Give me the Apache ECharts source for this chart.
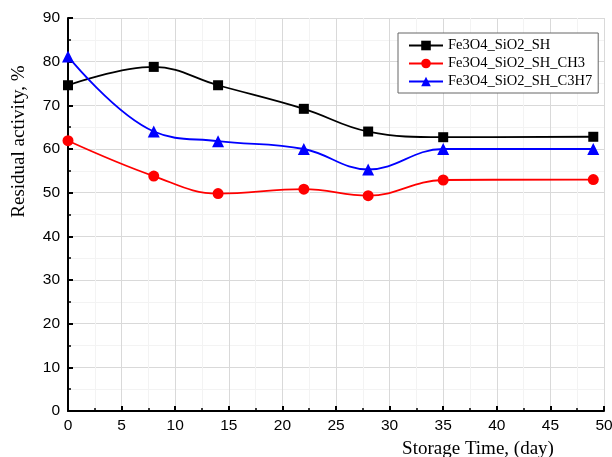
<!DOCTYPE html>
<html>
<head>
<meta charset="utf-8">
<script src="https://cdn.jsdelivr.net/npm/echarts@6/dist/echarts.min.js"></script>
<style>html,body{margin:0;padding:0;background:#fff}#c{width:612px;height:457px}</style>
</head>
<body>
<div id="c"></div>
<script>
const days = [0, 8, 14, 22, 28, 35, 49];
const seriesNames = ['Fe3O4_SiO2_SH', 'Fe3O4_SiO2_SH_CH3', 'Fe3O4_SiO2_SH_C3H7'];
const valuesSH = [74.6, 78.8, 74.6, 69.2, 64.0, 62.7, 62.8];
const valuesCH3 = [61.9, 53.8, 49.8, 50.8, 49.3, 52.9, 53.0];
const valuesC3H7 = [81.2, 64.0, 61.8, 60.0, 55.3, 60.0, 60.0];
const xTicks = [0, 5, 10, 15, 20, 25, 30, 35, 40, 45, 50];
const yTicks = [0, 10, 20, 30, 40, 50, 60, 70, 80, 90];

const colors = ['#000000', '#ff0000', '#0000ff'];
const symbols = ['rect', 'circle', 'triangle'];
const symSizes = [10, 11, 12];
const allValues = [valuesSH, valuesCH3, valuesC3H7];

const chart = echarts.init(document.getElementById('c'), null, {renderer: 'canvas'});
const serif = '"Liberation Serif", "DejaVu Serif", serif';
const sans = '"Liberation Sans", Arial, sans-serif';

const axisCommon = {
  axisLine: {show: true, onZero: false, lineStyle: {color: '#000', width: 2}},
  axisTick: {show: true, inside: true, length: 5, lineStyle: {color: '#000', width: 2}},
  minorTick: {show: true, splitNumber: 2, length: 3, lineStyle: {color: '#000', width: 1.5}},
  splitLine: {show: true, lineStyle: {color: '#d9d9d9', width: 1}},
  minorSplitLine: {show: true, lineStyle: {color: '#f3f3f3', width: 1}},
  axisLabel: {color: '#000', fontFamily: sans, fontSize: 15.5}
};

chart.setOption({
  animation: false,
  backgroundColor: '#fff',
  grid: {left: 68, right: 8, top: 18, bottom: 46, containLabel: false, outerBoundsMode: 'none'},
  legend: {
    orient: 'vertical',
    left: 398,
    top: 33,
    width: 200,
    padding: [5, 6, 4, 10],
    itemGap: 3,
    itemWidth: 34,
    itemHeight: 12,
    backgroundColor: '#fff',
    borderColor: '#666',
    borderWidth: 1,
    borderRadius: 0,
    textStyle: {color: '#000', fontFamily: serif, fontSize: 14.5},
    data: seriesNames
  },
  xAxis: Object.assign({}, axisCommon, {
    type: 'value', min: 0, max: 50, interval: 5,
    name: 'Storage Time, (day)',
    nameLocation: 'middle',
    nameGap: 29,
    nameTextStyle: {color: '#000', fontFamily: serif, fontSize: 19, padding: [0, 0, 0, 284]},
    axisLabel: Object.assign({}, axisCommon.axisLabel, {margin: 7,
      formatter: v => xTicks.includes(v) ? String(v) : ''})
  }),
  yAxis: Object.assign({}, axisCommon, {
    type: 'value', min: 0, max: 90, interval: 10,
    name: 'Residual activity, %',
    nameLocation: 'middle',
    nameGap: 39,
    nameTextStyle: {color: '#000', fontFamily: serif, fontSize: 19, padding: [0, 0, 0, 146]},
    axisLabel: Object.assign({}, axisCommon.axisLabel, {margin: 8,
      formatter: v => yTicks.includes(v) ? String(v) : ''})
  }),
  series: seriesNames.map((name, i) => ({
    name: name,
    type: 'line',
    data: days.map((d, j) => [d, allValues[i][j]]),
    smooth: 0.4,
    symbol: symbols[i],
    symbolSize: symSizes[i],
    showAllSymbol: true,
    itemStyle: {color: colors[i]},
    lineStyle: {color: colors[i], width: 1.8},
    z: 3 + i
  }))
});
</script>
</body>
</html>
